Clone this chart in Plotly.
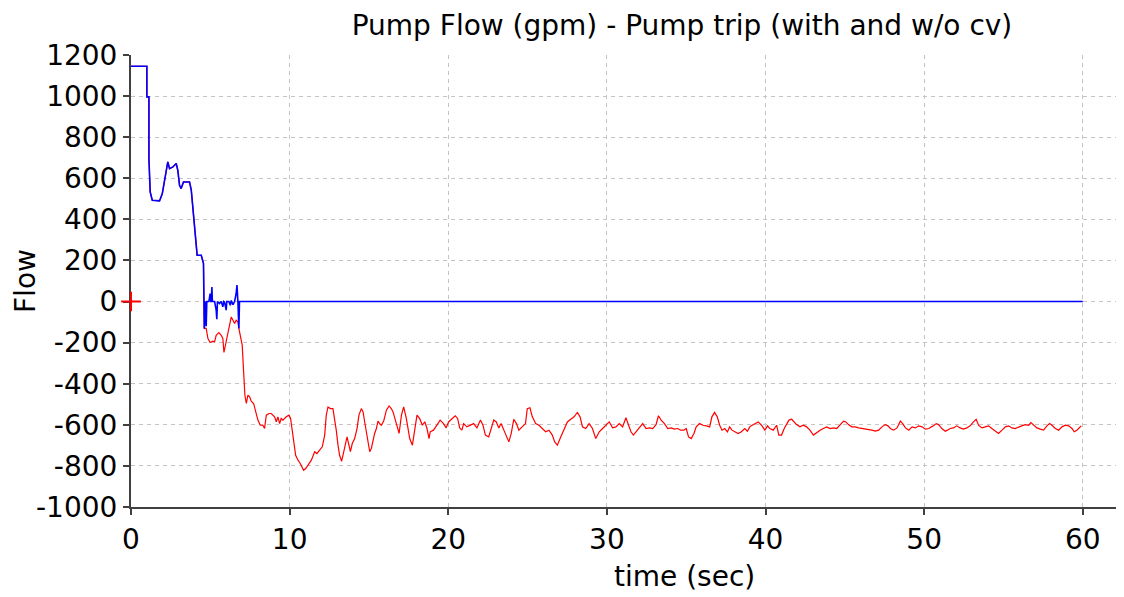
import plotly.graph_objects as go

# ---------------- data ----------------
# Shared start: both runs coincide until the check valve acts (~4.6 s)
t_common = [0, 1.0, 1.0, 1.13, 1.13, 1.21, 1.34, 1.80, 1.97, 2.07, 2.16, 2.32, 2.43,
            2.64, 2.85, 2.95, 3.06, 3.16, 3.31, 3.52, 3.69, 3.80, 3.90, 4.01, 4.11,
            4.17, 4.43, 4.53, 4.57]
flow_common = [1145, 1145, 996, 996, 696, 534, 493, 490, 524, 566, 623, 680, 647,
               655, 672, 639, 566, 550, 582, 582, 582, 542, 453, 339, 282,
               225, 225, 185, 185]

# With check valve (blue)
t_with_cv = [4.62, 4.66, 4.70, 4.74, 4.78, 4.91, 4.99, 5.03, 5.06, 5.10, 5.13, 5.27,
             5.37, 5.41, 5.45, 5.58, 5.69, 5.79, 5.85, 5.90, 6.00, 6.04, 6.17, 6.26,
             6.32, 6.43, 6.53, 6.63, 6.68, 6.74, 6.80, 6.84, 60.0]
flow_with_cv = [-131, -40, 0, -120, 0, 0, 39, 0, 0, 71, 0, 0,
                -42, -86, 0, -10, 0, -26, 0, -3, -42, 0, 0, -18,
                5, -15, 0, 39, 80, 0, -131, 0, 0]

# Without check valve (red), in pieces
t_wo_a = [4.62, 4.74, 4.85, 4.99, 5.16, 5.27, 5.37, 5.54, 5.69, 5.79, 5.86, 5.96,
          6.07, 6.17, 6.26, 6.32, 6.43, 6.53, 6.63, 6.74, 6.80, 6.91, 7.01, 7.10,
          7.18, 7.27, 7.37, 7.48, 7.58, 7.73, 7.86, 8.00, 8.15, 8.32, 8.42, 8.53,
          8.70, 8.84, 9.05, 9.16, 9.26, 9.37, 9.47, 9.58, 9.79, 9.96, 10.06, 10.17,
          10.25, 10.38, 10.53, 10.67, 10.88, 11.01, 11.16, 11.37, 11.58, 11.72, 11.89,
          12.06, 12.21, 12.31, 12.42, 12.57, 12.73, 12.84, 12.94, 13.05, 13.15, 13.28,
          13.41, 13.51, 13.62, 13.74, 13.83, 13.95, 14.10, 14.25, 14.37, 14.52, 14.63,
          14.73, 14.88, 15.05, 15.15, 15.26, 15.36, 15.47, 15.57, 15.68, 15.78, 15.93,
          16.10, 16.27, 16.41, 16.52, 16.73, 16.90, 17.05, 17.19, 17.36, 17.57, 17.74,
          17.89, 18.03, 18.20, 18.37, 18.52, 18.66, 18.79]
flow_wo_a = [-131, -131, -180, -199, -193, -196, -164, -151, -164, -180, -248, -212,
             -172, -131, -91, -75, -91, -107, -91, -99, -131, -167, -212, -342,
             -456, -496, -456, -464, -485, -496, -537, -577, -602, -602, -618, -553,
             -545, -545, -561, -585, -561, -594, -569, -577, -561, -553, -569, -634,
             -699, -748, -772, -788, -821, -813, -796, -772, -731, -740, -723,
             -707, -650, -553, -513, -521, -521, -569, -626, -699, -748, -777,
             -731, -683, -659, -699, -731, -691, -667, -618, -553, -521, -537,
             -585, -650, -731, -715, -667, -642, -618, -582, -594, -602, -582,
             -529, -508, -521, -537, -602, -642, -553, -513, -570, -667, -699,
             -634, -553, -570, -602, -585, -618, -667]

t_wo_b = [18.86, 19.07, 19.28, 19.49, 19.70, 19.87, 20.02, 20.23, 20.44, 20.59, 20.72,
          20.86, 20.97, 21.18, 21.39, 21.60, 21.81, 22.03, 22.19, 22.34, 22.55, 22.70,
          22.87, 23.03, 23.19, 23.33, 23.50, 23.67, 23.82, 23.97, 24.13, 24.30, 24.45,
          24.66, 24.87, 24.98, 25.15, 25.30, 25.51, 25.72, 25.93, 26.14, 26.35, 26.56,
          26.71, 26.88, 27.09, 27.30, 27.51, 27.72, 27.93, 28.14, 28.31, 28.46, 28.67,
          28.88, 29.09, 29.30, 29.52, 29.73, 29.94, 30.15, 30.36, 30.57, 30.78, 30.99,
          31.20, 31.35, 31.52, 31.67, 31.84, 32.05, 32.26, 32.47, 32.68, 32.89, 33.10,
          33.25, 33.42, 33.63, 33.84, 34.05, 34.26, 34.47, 34.64]
flow_wo_b = [-634, -626, -602, -577, -594, -615, -586, -573, -556, -569, -615,
             -626, -594, -610, -602, -594, -615, -577, -602, -650, -659, -618,
             -577, -586, -615, -594, -626, -659, -683, -642, -573, -594, -626,
             -610, -594, -521, -517, -561, -594, -602, -618, -634, -626, -650,
             -683, -699, -659, -618, -586, -573, -561, -540, -561, -610, -618,
             -594, -618, -667, -634, -618, -602, -586, -615, -610, -594, -610,
             -566, -602, -634, -650, -634, -610, -594, -618, -615, -618, -599,
             -556, -577, -594, -618, -615, -621, -618, -626]

t_wo_c = [34.85, 35.00, 35.15, 35.32, 35.49, 35.63, 35.84, 36.06, 36.27, 36.48, 36.62,
          36.79, 36.96, 37.11, 37.26, 37.43, 37.60, 37.74, 37.89, 38.06, 38.27, 38.48,
          38.69, 38.86, 39.01, 39.16, 39.32, 39.54, 39.75, 39.96, 40.13, 40.27, 40.49,
          40.70, 40.84, 41.01, 41.18, 41.33, 41.48, 41.65, 41.81, 41.96, 42.17, 42.38,
          42.59, 42.80, 43.02, 43.23, 43.44, 43.65, 43.86, 44.07, 44.28, 44.49, 44.71,
          44.92, 45.07, 45.23, 45.44, 45.65, 45.87, 46.08, 46.29, 46.50, 46.71, 46.92,
          47.13, 47.34, 47.55, 47.72, 47.87, 48.08, 48.29, 48.50, 48.65, 48.82, 49.03,
          49.24, 49.45, 49.66, 49.87, 50.08, 50.30, 50.46]
flow_wo_c = [-626, -618, -659, -667, -642, -610, -594, -602, -605, -610, -561,
             -540, -561, -602, -626, -618, -634, -610, -626, -634, -642, -634,
             -618, -631, -610, -602, -594, -586, -602, -626, -605, -618, -626,
             -602, -650, -650, -618, -594, -577, -573, -586, -599, -610, -602,
             -610, -626, -650, -637, -626, -618, -610, -618, -615, -618, -602,
             -582, -586, -599, -610, -610, -615, -618, -618, -621, -626, -631,
             -626, -610, -599, -605, -618, -626, -615, -582, -594, -615, -626,
             -610, -615, -605, -610, -621, -618, -610]

t_wo_d = [50.59, 50.76, 50.91, 51.12, 51.33, 51.47, 51.64, 51.85, 52.06, 52.27, 52.48,
          52.69, 52.90, 53.11, 53.28, 53.43, 53.64, 53.85, 54.06, 54.27, 54.48, 54.69,
          54.91, 55.12, 55.32, 55.53, 55.74, 55.95, 56.16, 56.37, 56.59, 56.73, 56.90,
          57.11, 57.32, 57.53, 57.74, 57.91, 58.06, 58.27, 58.48, 58.69, 58.90, 59.11,
          59.32, 59.46, 59.63, 59.80, 59.90]
flow_wo_d = [-605, -594, -599, -618, -631, -626, -618, -615, -605, -615, -621,
             -615, -605, -586, -573, -602, -615, -610, -605, -618, -631, -642,
             -626, -610, -605, -615, -618, -610, -605, -599, -602, -589, -602,
             -615, -621, -626, -605, -594, -602, -618, -626, -610, -602, -605,
             -618, -634, -626, -610, -605]

x_ticks = [0, 10, 20, 30, 40, 50, 60]
y_ticks = [-1000, -800, -600, -400, -200, 0, 200, 400, 600, 800, 1000, 1200]
y_tick_text = ["-1000", "-800", "-600", "-400", "-200", "0", "200", "400",
               "600", "800", "1000", "1200"]

title_text = "Pump Flow (gpm) - Pump trip (with and w/o cv)"
x_title = "time (sec)"
y_title = "Flow"

# ---------------- figure ----------------
t_red = t_common + t_wo_a + t_wo_b + t_wo_c + t_wo_d
f_red = flow_common + flow_wo_a + flow_wo_b + flow_wo_c + flow_wo_d
t_blue = t_common + t_with_cv
f_blue = flow_common + flow_with_cv

FONT = "DejaVu Sans, Arial, sans-serif"
FS = 28

# page body has an 8px margin; figure is sized so it ends at the window edge
W, H = 1116, 587
ML, MT, MB = 123, 47, 88
plot_w = W - ML
plot_h = H - MT - MB

fig = go.Figure()
fig.add_trace(go.Scatter(x=t_red, y=f_red, mode="lines", name="w/o cv",
                         line=dict(color="#ff0000", width=1.2)))
fig.add_trace(go.Scatter(x=t_blue, y=f_blue, mode="lines", name="with cv",
                         line=dict(color="#0000ff", width=1.6)))
fig.add_trace(go.Scatter(x=[0], y=[0], mode="markers", name="cursor",
                         marker=dict(symbol="cross-thin", size=14,
                                     line=dict(color="#ff0000", width=2)),
                         cliponaxis=False))

axis_common = dict(
    showgrid=True, gridcolor="#c4c4c4", gridwidth=1, griddash="4px,4px",
    showline=True, linecolor="#404040", linewidth=2, layer="below traces",
    ticks="outside", ticklen=6, tickcolor="#404040", tickwidth=1.5,
    zeroline=False, automargin=False,
    tickfont=dict(family=FONT, size=FS, color="#000000"),
)

fig.update_layout(
    width=W, height=H,
    margin=dict(l=ML, r=0, t=MT, b=MB, pad=0),
    paper_bgcolor="white", plot_bgcolor="white",
    showlegend=False,
    font=dict(family=FONT, color="#000000"),
    title=dict(text=title_text, x=674 / W, xanchor="center",
               y=1 - 17 / H, yanchor="middle",
               font=dict(family=FONT, size=FS, color="#000000")),
    xaxis=dict(range=[0, 62.6], tickvals=x_ticks, **axis_common),
    yaxis=dict(range=[-1000, 1200], tickvals=y_ticks, ticktext=y_tick_text,
               **axis_common),
    annotations=[
        dict(text=x_title, xref="paper", yref="paper",
             x=(684.5 - 131) / plot_w, y=-(578 - 509) / plot_h,
             xanchor="center", yanchor="middle", showarrow=False,
             font=dict(family=FONT, size=FS, color="#000000")),
        dict(text=y_title, xref="paper", yref="paper",
             x=-(131 - 25) / plot_w, y=0.5, textangle=-90,
             xanchor="center", yanchor="middle", showarrow=False,
             font=dict(family=FONT, size=FS, color="#000000")),
    ],
)

fig.write_html("out.html")
